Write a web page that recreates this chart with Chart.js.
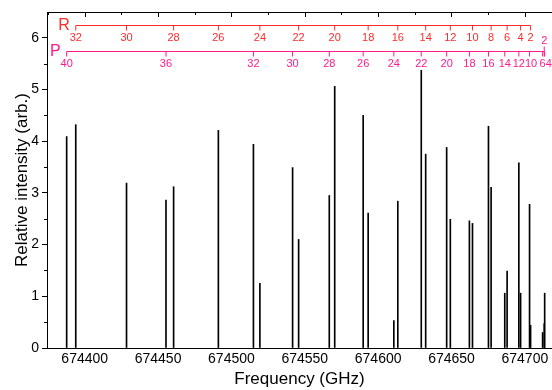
<!DOCTYPE html>
<html lang="en">

<head>
    <meta charset="UTF-8">
    <title>Spectrum</title>
    <style>
        html,
        body {
            margin: 0;
            padding: 0;
            background: #fff;
        }

        #box {
            width: 552px;
            height: 390px;
        }
    </style>
</head>

<body>
    <div id="box">
        <canvas id="myChart"></canvas>
    </div>

    <script src="https://cdn.jsdelivr.net/npm/chart.js"></script>
    <script>
        // R branch (J, frequency GHz, intensity)
        const rJ = [32, 30, 28, 26, 24, 22, 20, 18, 16, 14, 12, 10, 8, 6, 4, 2];
        const rFreq = [674393.9, 674428.5, 674460.6, 674491.1, 674519.4, 674545.8, 674570.4, 674593.2,
            674613.4, 674632.4, 674649.2, 674664.3, 674677.0, 674687.9, 674697.1, 674703.9];
        const rInt = [4.32, 3.19, 3.12, 4.21, 1.25, 2.10, 5.06, 2.61, 2.84, 3.75, 2.49, 2.41, 3.11, 1.49, 1.06, 0.44];

        // P branch
        const pJ = [40, 36, 32, 30, 28, 26, 24, 22, 20, 18, 16, 14, 12, 10, 6, 4, 2];
        const pFreq = [674387.7, 674455.4, 674515.0, 674541.7, 674566.7, 674589.8, 674610.7, 674629.4,
            674646.7, 674662.2, 674675.2, 674686.3, 674695.9, 674703.2, 674712.1, 674713.5, 674713.2];
        const pInt = [4.09, 2.86, 3.94, 3.49, 2.95, 4.50, 0.53, 5.37, 3.88, 2.46, 4.29, 1.06, 3.58, 2.78, 0.30, 1.06, 0.47];

        const xTicks = [674400, 674450, 674500, 674550, 674600, 674650, 674700];
        const yTicks = [0, 1, 2, 3, 4, 5, 6];
        const rLevel = 6.25;  // where the R ladder sits
        const pLevel = 5.75;  // where the P ladder sits

        function pts(f, v) {
            return f.map(function (x, i) { return { x: x, y: v[i] }; });
        }

        // draws frame top, minor ticks, and the R / P assignment ladders
        const extras = {
            id: 'extras',
            afterDraw(chart) {
                const c = chart.ctx;
                const xs = chart.scales.x, ys = chart.scales.y;
                const a = chart.chartArea;
                c.save();
                c.strokeStyle = '#000';
                c.lineWidth = 1;
                // top border + inward ticks
                c.beginPath();
                c.moveTo(a.left, a.top + 0.5);
                c.lineTo(a.right, a.top + 0.5);
                for (let f = 674375; f <= xs.max; f += 25) {
                    const px = Math.round(xs.getPixelForValue(f)) + 0.5;
                    const len = (f % 50 == 0) ? 5 : 3;
                    c.moveTo(px, a.top);
                    c.lineTo(px, a.top + len);
                }
                // y minor ticks
                for (let v = 0.5; v < ys.max; v += 1) {
                    const py = Math.round(ys.getPixelForValue(v)) + 0.5;
                    c.moveTo(a.left - 3, py);
                    c.lineTo(a.left, py);
                }
                c.stroke();

                ladder(c, chart, 'R', rJ, rFreq, rLevel, '#ff2a2a');
                ladder(c, chart, 'P', pJ, pFreq, pLevel, '#ff1a8c');
                c.restore();
            }
        };

        function ladder(c, chart, name, js, fs, level, color) {
            const xs = chart.scales.x, ys = chart.scales.y;
            const y = Math.round(ys.getPixelForValue(level)) + 0.5;
            const px = fs.map(function (f) { return xs.getPixelForValue(f); });
            const x0 = Math.min.apply(null, px), x1 = Math.max.apply(null, px);
            c.strokeStyle = color;
            c.fillStyle = color;
            c.lineWidth = 1;
            c.beginPath();
            c.moveTo(x0, y);
            c.lineTo(x1, y);
            px.forEach(function (x) {
                c.moveTo(x, y);
                c.lineTo(x, y + 5);
            });
            c.stroke();

            c.font = '11px "Liberation Sans", Arial, sans-serif';
            c.textBaseline = 'middle';
            c.textAlign = 'left';
            let prevRight = -1e9;
            js.forEach(function (j, i) {
                const t = String(j);
                const w = c.measureText(t).width;
                let left = px[i] - w / 2;
                if (left < prevRight) left = prevRight;
                if (left + w > chart.width) {
                    // no room below -> put it above the ladder
                    c.beginPath();
                    c.moveTo(px[i], y);
                    c.lineTo(px[i], y - 5);
                    c.stroke();
                    c.fillText(t, px[i] - w / 2, y - 11);
                    return;
                }
                c.fillText(t, left, y + 12);
                prevRight = left + w;
            });

            c.font = '16px "Liberation Sans", Arial, sans-serif';
            c.textAlign = 'right';
            c.fillText(name, x0 - 6, y);
        }

        const ctx = document.getElementById('myChart');
        const myChart = new Chart(ctx, {
            type: 'bar',
            data: {
                datasets: [{
                    label: 'R',
                    data: pts(rFreq, rInt),
                    backgroundColor: '#000',
                    barThickness: 1,
                    grouped: false
                }, {
                    label: 'P',
                    data: pts(pFreq, pInt),
                    backgroundColor: '#000',
                    barThickness: 1,
                    grouped: false
                }]
            },
            options: {
                responsive: true,
                maintainAspectRatio: false,
                animation: false,
                layout: { padding: { top: 12, right: 0, left: 0, bottom: 0 } },
                plugins: { legend: { display: false }, tooltip: { enabled: false } },
                scales: {
                    x: {
                        type: 'linear',
                        min: 674374.3,
                        max: 674718.5,
                        offset: false,
                        grid: { display: false, drawTicks: false },
                        border: { display: true, color: '#000', width: 1 },
                        afterBuildTicks: function (s) { s.ticks = xTicks.map(function (v) { return { value: v }; }); },
                        ticks: {
                            color: '#000',
                            padding: 3,
                            maxRotation: 0,
                            font: { family: '"Liberation Sans", Arial', size: 14 },
                            callback: function (v) { return String(v); }
                        },
                        title: {
                            display: true,
                            text: 'Frequency (GHz)',
                            color: '#000',
                            padding: { top: 0, bottom: 0 },
                            font: { family: '"Liberation Sans", Arial', size: 17 }
                        },
                        afterFit: function (s) { s.height = 42; }
                    },
                    y: {
                        min: 0,
                        max: 6.5,
                        grid: { drawOnChartArea: false, tickLength: 5, color: '#000' },
                        border: { display: true, color: '#000', width: 1 },
                        afterBuildTicks: function (s) { s.ticks = yTicks.map(function (v) { return { value: v }; }); },
                        ticks: {
                            color: '#000',
                            padding: 3,
                            font: { family: '"Liberation Sans", Arial', size: 14 }
                        },
                        title: {
                            display: true,
                            text: 'Relative intensity (arb.)',
                            color: '#000',
                            padding: { top: 12, bottom: 0 },
                            font: { family: '"Liberation Sans", Arial', size: 17 }
                        },
                        afterFit: function (s) { s.width = 47; }
                    }
                }
            },
            plugins: [extras]
        });
    </script>
</body>

</html>
